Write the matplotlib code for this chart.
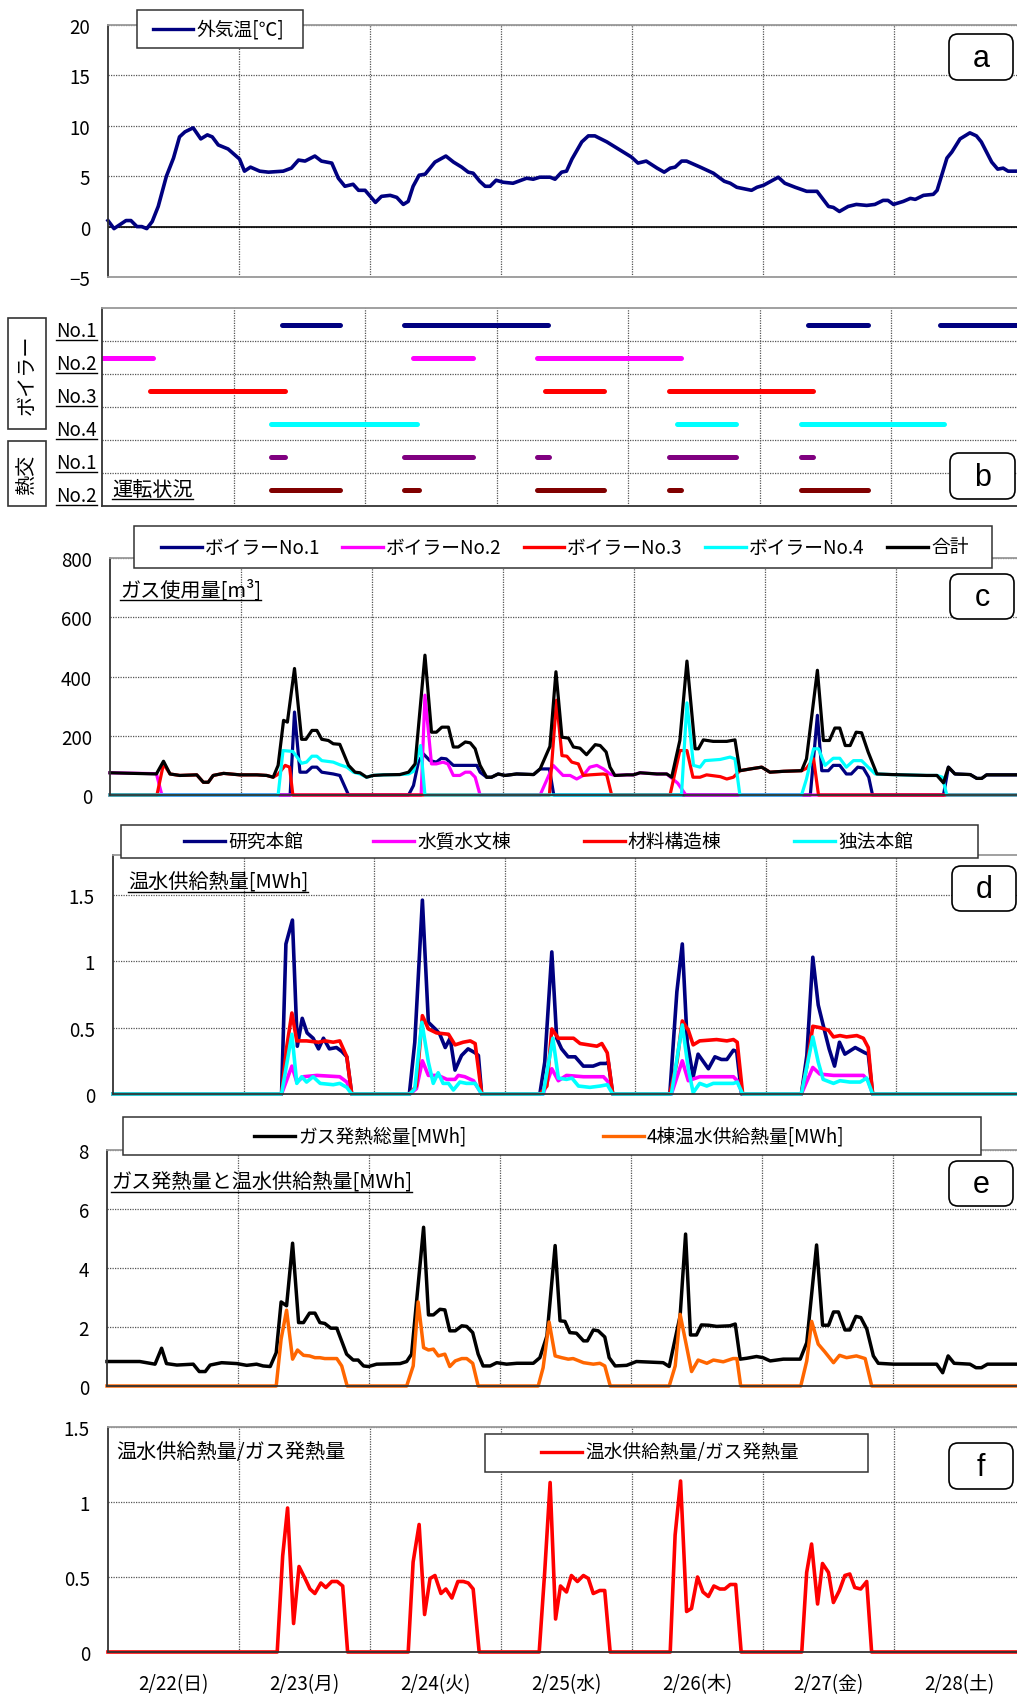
import matplotlib.pyplot as plt
from matplotlib.patches import Rectangle, FancyBboxPatch
from matplotlib.lines import Line2D

plt.rcParams['font.family'] = ['Noto Sans CJK JP', 'DejaVu Sans']

# ---------------- data (x = hours from 2/22 0:00) ----------------
day_labels = ['2/22(日)', '2/23(月)', '2/24(火)', '2/25(水)', '2/26(木)', '2/27(金)', '2/28(土)']

temp = [(0, 0.6), (1.1, -0.2), (3.3, 0.6), (4.2, 0.6), (5.3, 0.0), (6.2, 0.0), (7.1, -0.2), (8.1, 0.5),
        (9.2, 2.0), (10.7, 5.0), (12.0, 6.8), (13.1, 8.9), (14.1, 9.4), (15.6, 9.8), (17.0, 8.7), (18.2, 9.1),
        (19.1, 8.9), (20.2, 8.1), (22.0, 7.7), (24.1, 6.7), (25.0, 5.5), (26.1, 5.9), (27.8, 5.5), (29.4, 5.4),
        (32.1, 5.5), (33.6, 5.8), (34.9, 6.6), (36.1, 6.5), (37.9, 7.0), (39.1, 6.5), (41.0, 6.3), (42.2, 4.8),
        (43.4, 4.0), (44.9, 4.2), (45.9, 3.6), (47.1, 3.6), (49.0, 2.4), (50.1, 3.0), (51.7, 3.1), (52.9, 2.9),
        (54.1, 2.2), (55.0, 2.5), (55.9, 4.0), (57.0, 5.1), (58.1, 5.2), (59.9, 6.4), (61.9, 7.0), (63.3, 6.4),
        (64.8, 5.9), (66.0, 5.4), (66.9, 5.3), (68.1, 4.5), (69.1, 4.0), (70.0, 4.0), (71.1, 4.6), (72.4, 4.4),
        (74.2, 4.3), (76.7, 4.8), (77.9, 4.7), (79.1, 4.9), (81.0, 4.9), (81.9, 4.7), (83.1, 5.4), (84.0, 5.5),
        (85.0, 6.7), (86.8, 8.4), (88.0, 9.0), (89.2, 9.0), (91.4, 8.4), (93.8, 7.6), (95.9, 6.9), (97.1, 6.3),
        (98.6, 6.5), (100.6, 5.8), (101.9, 5.4), (103.0, 5.8), (103.9, 5.9), (105.1, 6.5), (106.0, 6.5),
        (108.5, 5.9), (110.9, 5.3), (112.9, 4.5), (114.0, 4.3), (115.2, 3.9), (117.9, 3.6), (118.9, 3.9),
        (120.1, 4.1), (122.8, 4.9), (124.0, 4.3), (125.9, 3.9), (128.0, 3.5), (129.9, 3.5), (132.0, 2.0),
        (132.9, 1.9), (134.0, 1.5), (135.6, 2.0), (137.1, 2.2), (139.0, 2.1), (140.5, 2.2), (142.0, 2.6),
        (142.9, 2.6), (143.9, 2.2), (145.7, 2.5), (147.0, 2.8), (147.9, 2.7), (149.4, 3.1), (151.2, 3.2),
        (151.9, 3.6), (153.7, 6.8), (154.6, 7.4), (156.1, 8.7), (157.9, 9.3), (159.1, 9.0), (160.0, 8.4),
        (161.9, 6.4), (163.0, 5.7), (164.0, 5.8), (164.9, 5.5), (166.5, 5.5)]

row_labels = ['No.1', 'No.2', 'No.3', 'No.4', 'No.1', 'No.2']
run_boiler1 = [(32.8, 43.4), (55.1, 81.4), (128.8, 139.8), (152.9, 168)]
run_boiler2 = [(0, 9.3), (56.8, 67.7), (79.4, 105.7)]
run_boiler3 = [(8.8, 33.4), (80.8, 91.6), (103.5, 129.8)]
run_boiler4 = [(30.8, 57.5), (104.9, 115.7), (127.6, 153.7)]
run_hx1 = [(30.8, 33.4), (55.1, 67.7), (79.4, 81.6), (103.5, 115.7), (127.6, 129.8)]
run_hx2 = [(30.8, 43.4), (55.1, 57.9), (79.4, 91.6), (103.5, 105.7), (127.6, 139.8)]

gas_labels = ['ボイラーNo.1', 'ボイラーNo.2', 'ボイラーNo.3', 'ボイラーNo.4', '合計']
gas_b1 = [(0, 0), (33.0, 0), (33.8, 280), (34.8, 77), (36.0, 77), (37.0, 94), (37.9, 94), (38.8, 77), (40.9, 71),
          (42.1, 66), (43.7, 0), (54.7, 0), (55.6, 32), (56.5, 111), (57.4, 139), (58.6, 116), (59.8, 111),
          (60.7, 124), (61.6, 122), (62.9, 100), (67.2, 100), (67.8, 77), (69.0, 60), (69.9, 60), (71.1, 71),
          (72.4, 66), (74.5, 71), (77.6, 69), (78.8, 88), (80.5, 88), (81.3, 0), (128.3, 0), (129.6, 269),
          (130.4, 82), (131.6, 82), (132.5, 100), (133.7, 100), (134.9, 71), (135.8, 71), (137.0, 94), (138.0, 91),
          (139.0, 60), (139.7, 0), (152.7, 0), (153.6, 94), (154.8, 71), (157.6, 69), (158.8, 56), (159.7, 56),
          (160.6, 68), (166.5, 68)]
gas_b2 = [(0, 75), (8.5, 72), (9.5, 0), (57.0, 0), (57.7, 337), (58.9, 105), (59.8, 105), (61.0, 111), (61.9, 105),
          (62.9, 66), (64.1, 66), (65.1, 77), (66.0, 77), (66.9, 60), (67.8, 0), (78.8, 0), (81.2, 100), (83.0, 66),
          (84.3, 66), (85.5, 54), (86.7, 66), (87.9, 94), (89.2, 100), (90.4, 88), (91.6, 71), (92.5, 66),
          (94.7, 68), (95.9, 68), (97.1, 75), (100.2, 71), (102.0, 71), (104.0, 40), (105.5, 0), (166.5, 0)]
gas_b3 = [(0, 0), (8.6, 0), (9.8, 105), (11.0, 71), (12.8, 66), (15.9, 68), (17.1, 43), (18.0, 43), (18.9, 66),
          (20.8, 73), (23.8, 68), (26.9, 68), (28.7, 66), (29.9, 60), (30.8, 70), (32.1, 100), (32.9, 94),
          (33.5, 0), (80.5, 0), (81.8, 320), (82.8, 133), (83.7, 131), (84.6, 111), (85.8, 105), (86.7, 66),
          (87.9, 68), (90.4, 71), (91.0, 68), (91.9, 0), (102.6, 0), (104.4, 150), (105.7, 150), (106.8, 60),
          (108.1, 60), (109.3, 68), (111.8, 62), (113.0, 54), (114.2, 60), (115.4, 82), (117.3, 88), (119.4, 94),
          (120.9, 77), (123.4, 80), (126.7, 82), (127.6, 90), (128.9, 122), (129.8, 0), (166.5, 0)]
gas_b4 = [(0, 0), (30.8, 0), (31.7, 150), (33.5, 147), (35.1, 107), (36.0, 111), (37.0, 131), (37.9, 131),
          (38.8, 116), (40.9, 111), (42.1, 102), (43.4, 94), (44.6, 77), (45.8, 71), (47.0, 60), (48.2, 66),
          (50.1, 68), (53.1, 69), (54.7, 71), (55.6, 80), (56.9, 167), (57.7, 0), (104.7, 0), (105.7, 311),
          (106.9, 100), (108.1, 94), (109.0, 116), (111.8, 120), (113.6, 128), (114.5, 122), (115.4, 0),
          (126.7, 0), (127.6, 54), (128.9, 156), (129.8, 156), (131.0, 100), (132.5, 124), (133.7, 124),
          (134.9, 94), (136.2, 116), (137.7, 116), (138.9, 94), (140.2, 71), (143.2, 69), (149.6, 66),
          (151.5, 66), (152.5, 60), (153.3, 0), (166.5, 0)]
gas_total = [(0, 75), (8.5, 71), (9.8, 114), (11.0, 71), (12.8, 66), (15.9, 68), (17.1, 43), (18.0, 43), (18.9, 66),
             (20.8, 73), (23.8, 68), (26.9, 68), (28.7, 66), (29.9, 60), (30.8, 100), (31.8, 252), (32.5, 246),
             (33.8, 427), (35.1, 188), (35.9, 188), (37.0, 218), (37.9, 218), (38.8, 188), (40.0, 184), (40.9, 173),
             (42.1, 171), (43.7, 100), (44.9, 77), (45.8, 75), (47.0, 60), (48.2, 66), (50.1, 68), (53.1, 69),
             (54.7, 77), (55.9, 105), (57.7, 472), (58.9, 212), (59.8, 212), (60.8, 229), (62.0, 229), (62.9, 162),
             (63.8, 162), (65.1, 179), (66.0, 176), (66.9, 156), (67.8, 100), (69.0, 60), (69.9, 60), (71.1, 71),
             (72.4, 66), (74.5, 71), (77.6, 69), (78.8, 88), (80.6, 164), (81.7, 416), (82.8, 195), (84.0, 192),
             (84.9, 162), (86.1, 158), (87.3, 136), (88.9, 170), (89.8, 167), (90.9, 145), (91.6, 94), (92.5, 66),
             (94.7, 68), (95.9, 68), (97.1, 75), (100.2, 71), (102.0, 71), (102.9, 60), (104.4, 184), (105.7, 452),
             (107.2, 156), (107.8, 156), (108.7, 186), (110.5, 181), (113.0, 181), (114.5, 186), (115.4, 82),
             (117.3, 88), (119.4, 94), (120.9, 77), (123.4, 80), (126.7, 82), (127.6, 122), (129.6, 421),
             (130.7, 184), (131.8, 184), (132.8, 226), (133.7, 226), (134.7, 167), (135.6, 167), (136.7, 212),
             (137.7, 210), (138.9, 145), (140.5, 71), (143.2, 69), (149.6, 66), (151.5, 66), (152.7, 41),
             (153.6, 94), (154.8, 71), (157.6, 69), (158.8, 56), (159.7, 56), (160.6, 68), (166.5, 68)]

bldg_labels = ['研究本館', '水質水文棟', '材料構造棟', '独法本館']
heat_main = [(0, 0), (31.0, 0), (31.8, 1.13), (33.0, 1.31), (33.9, 0.36), (34.8, 0.57), (35.7, 0.46), (36.8, 0.42),
             (37.8, 0.34), (38.7, 0.42), (39.8, 0.34), (41.1, 0.35), (42.1, 0.32), (43.0, 0.28), (43.9, 0),
             (54.5, 0), (55.5, 0.39), (56.9, 1.46), (58.0, 0.54), (59.5, 0.48), (60.1, 0.45), (61.1, 0.35),
             (62.0, 0.42), (62.9, 0.18), (64.1, 0.29), (65.3, 0.34), (66.6, 0.31), (67.2, 0.29), (67.8, 0),
             (78.5, 0), (79.4, 0.24), (80.7, 1.07), (81.6, 0.42), (82.5, 0.34), (83.7, 0.28), (85.0, 0.28),
             (86.5, 0.21), (88.3, 0.21), (89.6, 0.23), (90.7, 0.23), (91.1, 0.24), (91.9, 0), (102.4, 0),
             (103.7, 0.77), (104.7, 1.13), (105.6, 0.39), (106.7, 0.13), (107.6, 0.30), (109.5, 0.19), (110.7, 0.28),
             (111.9, 0.26), (112.9, 0.26), (114.1, 0.33), (114.7, 0.32), (115.6, 0), (126.6, 0), (127.6, 0.29),
             (128.7, 1.03), (129.7, 0.67), (130.9, 0.47), (131.7, 0.34), (132.7, 0.21), (133.6, 0.39), (134.6, 0.30),
             (136.5, 0.35), (138.3, 0.31), (138.9, 0.30), (139.7, 0), (168, 0)]
heat_water = [(0, 0), (31.0, 0), (32.9, 0.21), (33.8, 0.09), (35.0, 0.13), (37.5, 0.14), (41.7, 0.13), (43.0, 0.09),
              (43.9, 0), (54.6, 0), (55.8, 0.04), (56.9, 0.25), (58.0, 0.14), (59.8, 0.14), (61.4, 0.11),
              (62.9, 0.11), (63.5, 0.14), (64.7, 0.13), (66.3, 0.10), (67.8, 0), (79.1, 0), (80.7, 0.19),
              (81.9, 0.10), (83.4, 0.14), (86.5, 0.13), (90.2, 0.13), (91.1, 0.09), (91.9, 0), (102.7, 0),
              (104.7, 0.25), (105.8, 0.10), (107.9, 0.13), (111.0, 0.13), (114.1, 0.13), (114.8, 0.10), (115.8, 0),
              (126.6, 0), (128.7, 0.20), (130.0, 0.15), (132.5, 0.14), (135.5, 0.14), (138.0, 0.14), (138.9, 0.10),
              (139.7, 0), (168, 0)]
heat_mat = [(0, 0), (31.0, 0), (31.9, 0.34), (32.9, 0.61), (33.8, 0.40), (35.6, 0.40), (37.8, 0.39), (39.0, 0.40),
            (40.5, 0.39), (41.7, 0.40), (43.0, 0.28), (43.9, 0), (54.5, 0), (55.8, 0.06), (56.9, 0.59), (58.0, 0.49),
            (59.5, 0.46), (61.7, 0.45), (62.9, 0.37), (64.4, 0.39), (65.7, 0.40), (66.6, 0.38), (67.8, 0),
            (78.5, 0), (79.8, 0.06), (80.7, 0.49), (81.9, 0.42), (84.7, 0.42), (85.9, 0.38), (89.0, 0.36),
            (89.9, 0.38), (90.9, 0.31), (91.9, 0), (102.4, 0), (103.7, 0.24), (104.7, 0.55), (105.8, 0.48),
            (106.7, 0.37), (107.9, 0.40), (111.0, 0.41), (112.9, 0.40), (114.1, 0.41), (114.8, 0.39), (115.8, 0),
            (126.6, 0), (127.6, 0.21), (128.7, 0.51), (130.0, 0.50), (131.6, 0.48), (132.5, 0.43), (133.7, 0.44),
            (134.9, 0.43), (136.8, 0.44), (138.0, 0.42), (138.9, 0.35), (139.7, 0), (168, 0)]
heat_hq = [(0, 0), (31.0, 0), (32.9, 0.45), (33.8, 0.08), (34.7, 0.13), (35.6, 0.09), (36.8, 0.13), (38.1, 0.08),
           (40.5, 0.07), (41.7, 0.08), (43.0, 0.05), (43.9, 0), (54.6, 0), (55.5, 0.04), (56.8, 0.54), (58.0, 0.24),
           (58.9, 0.08), (59.8, 0.16), (60.7, 0.08), (61.7, 0.08), (62.6, 0.03), (63.8, 0.09), (65.0, 0.08),
           (66.6, 0.08), (67.8, 0), (79.1, 0), (80.9, 0.42), (81.9, 0.12), (83.4, 0.11), (84.4, 0.12), (85.6, 0.06),
           (87.7, 0.05), (89.6, 0.06), (90.9, 0.07), (91.9, 0), (102.7, 0), (104.7, 0.52), (105.8, 0.19),
           (106.7, 0.01), (107.9, 0.08), (109.2, 0.06), (110.4, 0.08), (112.9, 0.08), (114.1, 0.08), (114.8, 0.09),
           (115.8, 0), (126.6, 0), (128.7, 0.43), (129.7, 0.24), (130.6, 0.11), (132.5, 0.08), (133.7, 0.10),
           (135.5, 0.09), (137.4, 0.09), (138.6, 0.12), (139.7, 0), (168, 0)]

heat_labels = ['ガス発熱総量[MWh]', '4棟温水供給熱量[MWh]']
gas_heat = [(0, 0.83), (6.0, 0.83), (8.8, 0.74), (10.0, 1.28), (10.9, 0.76), (12.8, 0.71), (15.8, 0.74), (16.9, 0.49),
            (18.0, 0.49), (18.9, 0.71), (21.0, 0.79), (23.8, 0.76), (25.6, 0.70), (27.4, 0.74), (28.6, 0.68),
            (29.9, 0.66), (31.0, 1.13), (31.9, 2.85), (32.9, 2.72), (34.0, 4.84), (35.1, 2.15), (36.0, 2.15),
            (37.1, 2.47), (38.1, 2.47), (39.0, 2.15), (39.9, 2.12), (41.0, 1.96), (42.1, 1.96), (43.9, 1.08),
            (45.1, 0.88), (46.0, 0.88), (47.0, 0.68), (47.9, 0.66), (49.4, 0.74), (53.7, 0.76), (54.9, 0.83),
            (55.8, 1.08), (58.0, 5.38), (58.9, 2.41), (59.8, 2.41), (61.0, 2.60), (61.9, 2.58), (62.8, 1.87),
            (63.8, 1.87), (65.0, 2.04), (65.9, 2.02), (67.0, 1.81), (68.0, 1.08), (68.9, 0.68), (70.2, 0.68),
            (71.4, 0.79), (73.2, 0.74), (75.1, 0.77), (78.1, 0.77), (79.3, 0.96), (80.6, 1.70), (82.1, 4.76),
            (83.0, 2.21), (83.9, 2.19), (84.8, 1.81), (86.0, 1.79), (87.3, 1.53), (88.0, 1.53), (89.1, 1.90),
            (90.0, 1.87), (91.2, 1.66), (92.0, 0.96), (93.1, 0.68), (95.2, 0.70), (97.0, 0.83), (101.9, 0.79),
            (103.0, 0.66), (105.0, 2.38), (106.0, 5.15), (106.9, 1.73), (108.0, 1.73), (108.9, 2.07), (110.2, 2.06),
            (111.7, 2.02), (114.1, 2.04), (115.1, 2.10), (116.0, 0.91), (117.2, 0.94), (119.0, 1.00), (120.2, 0.96),
            (121.5, 0.85), (123.9, 0.91), (127.0, 0.91), (128.2, 1.47), (130.0, 4.78), (131.1, 2.06), (132.2, 2.06),
            (133.1, 2.51), (134.0, 2.51), (135.2, 1.90), (136.1, 1.90), (137.2, 2.36), (138.1, 2.32), (139.2, 1.93),
            (140.4, 1.02), (141.3, 0.77), (144.1, 0.74), (152.0, 0.74), (153.1, 0.45), (154.1, 1.02), (155.2, 0.77),
            (158.1, 0.74), (159.2, 0.62), (160.2, 0.62), (161.3, 0.74), (166.7, 0.74)]
supply = [(0, 0), (31.0, 0), (31.9, 1.59), (32.9, 2.57), (34.0, 0.91), (34.9, 1.22), (36.0, 1.04), (37.1, 1.02),
          (38.1, 0.96), (39.0, 0.96), (39.9, 0.93), (42.1, 0.93), (43.0, 0.68), (44.0, 0), (54.9, 0), (56.1, 0.68),
          (57.0, 2.85), (58.0, 1.30), (58.9, 1.22), (59.8, 1.25), (60.7, 1.02), (61.9, 1.08), (62.8, 0.66),
          (63.8, 0.85), (65.0, 0.93), (65.9, 0.93), (67.0, 0.77), (68.0, 0), (79.0, 0), (79.9, 0.62), (81.0, 2.17),
          (82.1, 1.02), (83.3, 0.96), (84.5, 0.91), (85.4, 0.93), (87.3, 0.79), (89.1, 0.74), (90.3, 0.77),
          (91.2, 0.68), (92.2, 0), (103.0, 0), (104.1, 0.68), (105.0, 2.43), (106.1, 1.42), (107.1, 0.49),
          (108.3, 0.88), (109.9, 0.77), (111.1, 0.88), (112.9, 0.82), (114.7, 0.93), (115.4, 0.93), (116.1, 0),
          (127.1, 0), (128.2, 0.85), (129.1, 2.19), (130.3, 1.42), (131.5, 1.16), (133.1, 0.79), (134.2, 1.04),
          (135.5, 0.96), (137.3, 1.02), (138.9, 0.93), (140.1, 0), (166.7, 0)]

ratio_label = '温水供給熱量/ガス発熱量'
ratio = [(0, 0), (31.0, 0), (32.0, 0.64), (32.9, 0.96), (34.0, 0.19), (35.0, 0.57), (36.1, 0.49), (37.0, 0.42),
         (37.9, 0.39), (39.0, 0.46), (39.9, 0.43), (41.0, 0.47), (42.0, 0.47), (43.0, 0.44), (43.9, 0), (55.0, 0),
         (55.9, 0.60), (57.0, 0.85), (58.0, 0.25), (59.0, 0.49), (59.9, 0.51), (61.0, 0.39), (61.9, 0.42),
         (63.0, 0.36), (64.1, 0.47), (65.1, 0.47), (66.0, 0.46), (66.9, 0.42), (68.0, 0), (79.0, 0), (80.0, 0.53),
         (81.0, 1.13), (82.0, 0.22), (82.9, 0.44), (84.0, 0.40), (84.9, 0.51), (86.0, 0.47), (87.1, 0.51),
         (88.0, 0.49), (88.9, 0.39), (90.1, 0.41), (91.0, 0.41), (92.0, 0), (103.0, 0), (103.9, 0.78),
         (104.9, 1.14), (106.0, 0.27), (106.9, 0.29), (108.0, 0.50), (109.0, 0.40), (110.0, 0.37), (111.0, 0.44),
         (112.1, 0.42), (113.0, 0.42), (114.0, 0.45), (115.0, 0.45), (116.0, 0), (127.1, 0), (128.0, 0.53),
         (128.9, 0.72), (130.0, 0.32), (130.9, 0.59), (132.0, 0.53), (132.9, 0.33), (134.0, 0.41), (135.0, 0.51),
         (135.9, 0.52), (136.8, 0.43), (137.9, 0.42), (139.0, 0.47), (139.9, 0), (166.7, 0)]

# ---------------- layout helpers (pixel coords, origin top-left) ----------------
W, H = 1017, 1699
fig = plt.figure(figsize=(W / 100, H / 100), dpi=100)
tr = fig.dpi_scale_trans
FS = 13.5
underlined = []


def X(px):
    return px / 100


def Y(py):
    return (H - py) / 100


def make_ax(left, top, bottom, day_px):
    return fig.add_axes([left / W, 1 - bottom / H, 7 * day_px / W, (bottom - top) / H])


def style(ax, ylim, yticks, labels=None, bottom_color='#333333'):
    ax.set_xlim(0, 168)
    ax.set_ylim(*ylim)
    ax.set_xticks(range(24, 168, 24))
    ax.set_xticklabels([])
    ax.set_yticks(yticks)
    if labels is not None:
        ax.set_yticklabels(labels)
    ax.tick_params(length=0, labelsize=FS, pad=13)
    ax.grid(True, color='#555555', linestyle=(0, (1, 1)), linewidth=0.9)
    ax.set_axisbelow(True)
    ax.spines['top'].set_color('#999999')
    ax.spines['left'].set_color('#333333')
    ax.spines['bottom'].set_color(bottom_color)
    for s in ax.spines.values():
        s.set_linewidth(1.3)


def draw(ax, pts, color, lw):
    xs, ys = zip(*pts)
    ax.plot(xs, ys, color=color, lw=lw, clip_on=False, solid_joinstyle='round')


def legend_box(x0, y0, x1, y1, ly, items):
    fig.add_artist(Rectangle((X(x0), Y(y1)), X(x1 - x0), (y1 - y0) / 100, transform=tr,
                             fc='white', ec='#333333', lw=1.1, zorder=5))
    for lx0, lx1, color, label in items:
        fig.add_artist(Line2D([X(lx0), X(lx1)], [Y(ly)] * 2, transform=tr, color=color, lw=2.4, zorder=6))
        fig.text(X(lx1 + 3), Y(ly), label, transform=tr, fontsize=FS, va='center', ha='left', zorder=6)


def tag(x0, y0, x1, y1, s):
    fig.add_artist(FancyBboxPatch((X(x0), Y(y1)), X(x1 - x0), (y1 - y0) / 100,
                                  boxstyle='round,pad=0,rounding_size=0.09', transform=tr,
                                  fc='white', ec='black', lw=1.2, zorder=5))
    fig.text(X((x0 + x1) / 2), Y((y0 + y1) / 2 + 1), s, transform=tr, ha='center', va='center',
             fontsize=22, family='Liberation Sans', zorder=6)


def label(x, y, s, size=14.5, underline=True):
    t = fig.text(X(x), Y(y), s, transform=tr, fontsize=size, va='baseline', ha='left', zorder=6)
    if underline:
        underlined.append(t)
    return t


# ---------------- panel a ----------------
ax_a = make_ax(108, 26, 278, 131)
style(ax_a, (-5, 20), range(-5, 21, 5), bottom_color='#999999')
ax_a.axhline(0, color='black', lw=1.2, zorder=1)
draw(ax_a, temp, '#000080', 2.6)
legend_box(137, 11, 303, 49, 30, [(153, 193, '#000080', '外気温[℃]')])
tag(949, 35, 1013, 81, 'a')

# ---------------- panel b ----------------
ax_b = make_ax(102, 309, 507, 131.5)
style(ax_b, (6, 0), range(1, 6), labels=[])
runs = [run_boiler1, run_boiler2, run_boiler3, run_boiler4, run_hx1, run_hx2]
run_colors = ['#000080', '#FF00FF', '#FF0000', '#00FFFF', '#800080', '#800000']
for i, (segs, c) in enumerate(zip(runs, run_colors)):
    for s, e in segs:
        ax_b.plot([s, e], [i + 0.5] * 2, color=c, lw=3.6, solid_capstyle='round')
for i, name in enumerate(row_labels):
    label(56, 309 + 33 * (i + 1) - 5, name, size=FS)
fig.add_artist(Rectangle((X(8), Y(430)), X(38), 1.11, transform=tr, fc='white', ec='#333333', lw=1.2))
fig.text(X(27), Y(374.5), 'ボイラー', transform=tr, rotation=90, fontsize=14.5, ha='center', va='center')
fig.add_artist(Rectangle((X(8), Y(507)), X(38), 0.65, transform=tr, fc='white', ec='#333333', lw=1.2))
fig.text(X(27), Y(474.5), '熱交', transform=tr, rotation=90, fontsize=14.5, ha='center', va='center')
label(112, 496, '運転状況', size=14.5)
tag(950, 454, 1015, 500, 'b')

# ---------------- panel c ----------------
ax_c = make_ax(110, 559, 796, 131)
style(ax_c, (0, 800), range(0, 801, 200))
gas_series = [gas_b1, gas_b2, gas_b3, gas_b4, gas_total]
gas_colors = ['#000080', '#FF00FF', '#FF0000', '#00FFFF', '#000000']
for pts, c in zip(gas_series, gas_colors):
    draw(ax_c, pts, c, 2.3)
legend_box(134, 527, 992, 569, 548,
           list(zip([161, 342, 524, 705, 887], [202, 383, 564, 746, 928], gas_colors, gas_labels)))
label(120, 597, 'ガス使用量[m³]')
tag(950, 575, 1014, 620, 'c')

# ---------------- panel d ----------------
ax_d = make_ax(113, 856, 1095, 130.5)
style(ax_d, (0, 1.8), [0, 0.5, 1, 1.5], labels=['0', '0.5', '1', '1.5'])
bldg_colors = ['#000080', '#FF00FF', '#FF0000', '#00FFFF']
for pts, c in zip([heat_main, heat_water, heat_mat, heat_hq], bldg_colors):
    draw(ax_d, pts, c, 2.6)
legend_box(121, 826, 978, 859, 842,
           list(zip([184, 373, 584, 794], [225, 414, 625, 835], bldg_colors, bldg_labels)))
label(128, 889, '温水供給熱量[MWh]')
tag(952, 867, 1016, 912, 'd')

# ---------------- panel e ----------------
ax_e = make_ax(107, 1151, 1387, 131)
style(ax_e, (0, 8), range(0, 9, 2))
draw(ax_e, gas_heat, '#000000', 2.5)
draw(ax_e, supply, '#FF6600', 2.5)
legend_box(123, 1118, 981, 1156, 1137,
           list(zip([254, 603], [295, 644], ['#000000', '#FF6600'], heat_labels)))
label(111, 1189, 'ガス発熱量と温水供給熱量[MWh]')
tag(949, 1162, 1013, 1207, 'e')

# ---------------- panel f ----------------
ax_f = make_ax(108, 1428, 1653, 131)
style(ax_f, (0, 1.5), [0, 0.5, 1, 1.5], labels=['0', '0.5', '1', '1.5'])
ax_f.set_xticks([12 + 24 * i for i in range(7)], minor=True)
ax_f.set_xticklabels(day_labels, minor=True)
ax_f.tick_params(axis='x', which='minor', length=0, pad=15, labelsize=FS)
draw(ax_f, ratio, '#FF0000', 2.6)
legend_box(485, 1435, 868, 1473, 1453, [(541, 582, '#FF0000', ratio_label)])
label(116, 1458, ratio_label, underline=False)
tag(949, 1444, 1013, 1490, 'f')

# underlines under the marked labels
fig.canvas.draw()
for t in underlined:
    bb = t.get_window_extent()
    x0, x1 = bb.x0 / fig.dpi, bb.x1 / fig.dpi
    yb = t.get_position()[1] - 0.035
    fig.add_artist(Line2D([x0, x1], [yb, yb], transform=tr, color='black', lw=1.0, zorder=6))

fig.savefig('out.png', dpi=100)
